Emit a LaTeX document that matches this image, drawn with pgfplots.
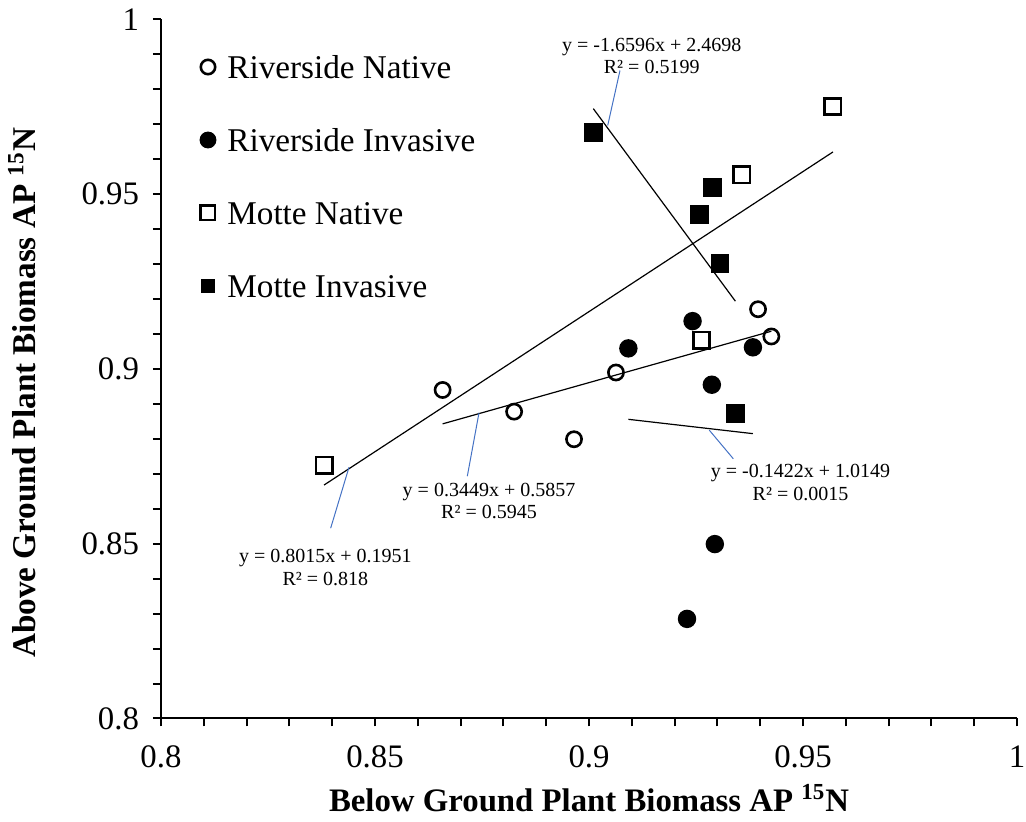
\documentclass[border=0pt]{standalone}
\usepackage{fontspec}
\setmainfont{Liberation Serif}
\usepackage{pgfplots}
\pgfplotsset{compat=1.18}
\definecolor{leader}{HTML}{4472C4}
\pgfplotsset{legmark/.style={legend image code/.code={\draw[##1, mark size=#1] plot coordinates {(0pt,0pt)};}}}
\begin{document}
\begin{tikzpicture}
\begin{axis}[
  scale only axis, width=428pt, height=349.5pt,
  xmin=0.8, xmax=1, ymin=0.8, ymax=1,
  axis x line=bottom, axis y line=left,
  axis line style={-, line width=1pt, black},
  xtick={0.8,0.85,0.9,0.95,1}, ytick={0.8,0.85,0.9,0.95,1},
  minor x tick num=4, minor y tick num=4,
  tick align=outside, major tick length=4pt, minor tick length=4pt,
  every tick/.style={line width=1pt, black},
  /pgf/number format/assume math mode=true,
  ticklabel style={font=\fontsize{16.4}{20}\selectfont},
  xticklabel style={yshift=-6pt},
  yticklabel style={xshift=-3.5pt},
  xlabel={Below Ground Plant Biomass AP \textsuperscript{15}N},
  ylabel={Above Ground Plant Biomass AP \textsuperscript{15}N},
  xlabel style={font=\bfseries\fontsize{16.4}{20}\selectfont, at={(rel axis cs:0.5,-0.13333)}, anchor=base, inner sep=0pt},
  ylabel style={font=\bfseries\fontsize{16.6}{20}\selectfont, at={(rel axis cs:-0.14603,0.4657)}, anchor=base, inner sep=0pt},
  clip=false,
  legend cell align=left,
  legend style={at={(axis cs:0.80925,0.98984)}, anchor=north west, draw=none, fill=none,
    inner sep=0pt, outer sep=0pt, row sep=24.5pt, font=\fontsize{16.6}{20}\selectfont,
    nodes={inner sep=0pt, text height=12pt, text depth=0pt},
    /tikz/every odd column/.append style={column sep=6pt}},
]
\addplot[only marks, mark=o, mark size=3.8pt, line width=1.3pt, black, legmark=3.6pt]
  coordinates {(0.8658,0.8940) (0.8825,0.8878) (0.8965,0.8799) (0.9063,0.8990) (0.9395,0.9171) (0.9426,0.9093)};
\addlegendentry{Riverside Native}
\addplot[only marks, mark=*, mark size=4.1pt, line width=1pt, black, fill=black, legmark=3.7pt]
  coordinates {(0.9092,0.9059) (0.9242,0.9137) (0.9383,0.9062) (0.9287,0.8955) (0.9294,0.8499) (0.9229,0.8285)};
\addlegendentry{Riverside Invasive}
\addplot[only marks, mark=square, mark size=4.1pt, line width=1.3pt, black, legmark=3.6pt]
  coordinates {(0.8381,0.8725) (0.9570,0.9751) (0.9357,0.9556) (0.9263,0.9082)};
\addlegendentry{Motte Native}
\addplot[only marks, mark=square*, mark size=4.2pt, line width=1pt, black, fill=black, legmark=2.9pt]
  coordinates {(0.9010,0.9677) (0.9289,0.9519) (0.9259,0.9443) (0.9306,0.9302) (0.9342,0.8873)};
\addlegendentry{Motte Invasive}
% trendlines
\addplot[black, line width=0.6pt, forget plot] coordinates {(0.8658,0.8843) (0.9426,0.9108)};
\addplot[black, line width=0.6pt, forget plot] coordinates {(0.9092,0.8856) (0.9383,0.8815)};
\addplot[black, line width=0.6pt, forget plot] coordinates {(0.8381,0.8668) (0.9570,0.9621)};
\addplot[black, line width=0.6pt, forget plot] coordinates {(0.9010,0.9745) (0.9342,0.9194)};
% leader lines
\draw[leader, line width=0.5pt] (axis cs:0.90724,0.98541) -- (axis cs:0.90437,0.96967);
\draw[leader, line width=0.5pt] (axis cs:0.83964,0.85445) -- (axis cs:0.84393,0.87190);
\draw[leader, line width=0.5pt] (axis cs:0.87157,0.86933) -- (axis cs:0.87430,0.88747);
\draw[leader, line width=0.5pt] (axis cs:0.93372,0.87431) -- (axis cs:0.92811,0.88249);
% equation labels
\node[align=center, inner sep=0pt, font=\fontsize{10}{11.35}\selectfont] at (axis cs:0.91465,0.98959) {y = -1.6596x + 2.4698\\R² = 0.5199};
\node[align=center, inner sep=0pt, font=\fontsize{10}{11.35}\selectfont] at (axis cs:0.83839,0.84315) {y = 0.8015x + 0.1951\\R² = 0.818};
\node[align=center, inner sep=0pt, font=\fontsize{10}{11.35}\selectfont] at (axis cs:0.87664,0.86226) {y = 0.3449x + 0.5857\\R² = 0.5945};
\node[align=center, inner sep=0pt, font=\fontsize{10}{11.35}\selectfont] at (axis cs:0.94942,0.86753) {y = -0.1422x + 1.0149\\R² = 0.0015};
\end{axis}
\pgfresetboundingbox
\path[use as bounding box] (-80.5pt,-51.75pt) rectangle (432.5pt,359.25pt);
\end{tikzpicture}
\end{document}
